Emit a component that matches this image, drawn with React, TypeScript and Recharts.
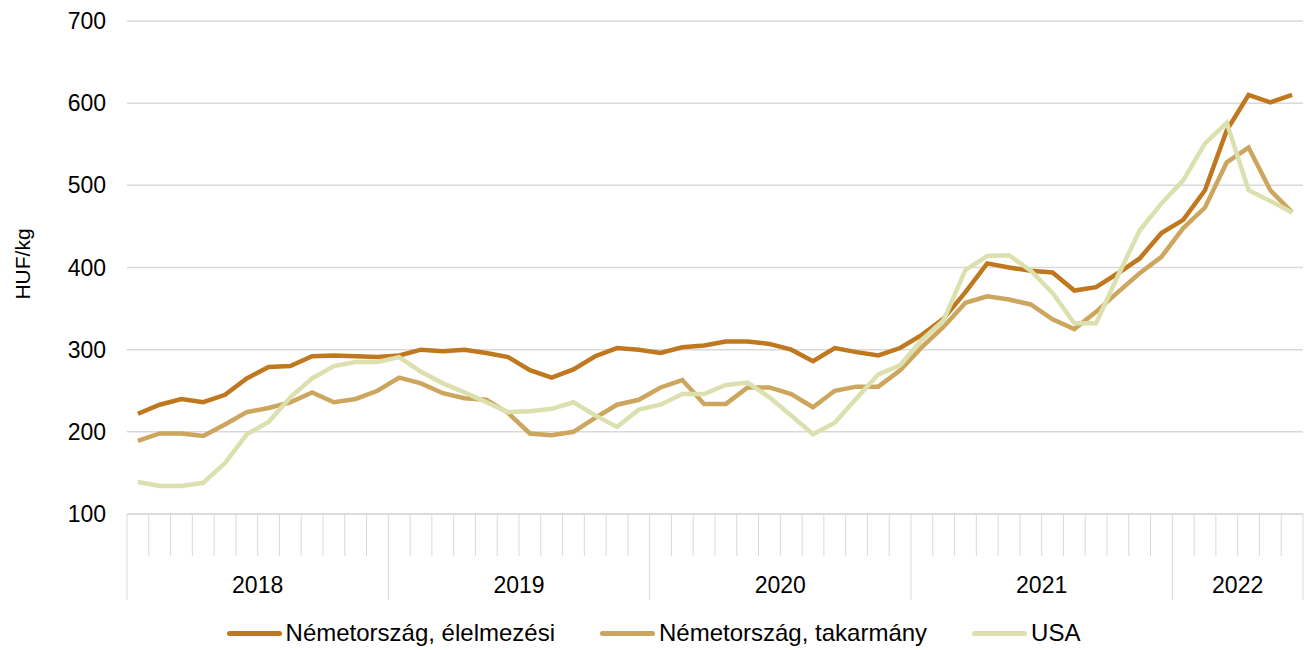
import { LineChart, Line, XAxis, YAxis, CartesianGrid } from 'recharts';

// monthly prices, Jan 2018 - Jun 2022
const years = ['2018', '2019', '2020', '2021', '2022'];
const monthsPerYear = [12, 12, 12, 12, 6];

const elelmezesi = [
  222, 233, 240, 236, 245, 265, 279, 280, 292, 293, 292, 291,
  293, 300, 298, 300, 296, 291, 275, 266, 276, 292, 302, 300,
  296, 303, 305, 310, 310, 307, 300, 286, 302, 297, 293, 302,
  318, 338, 370, 405, 400, 396, 394, 372, 376, 393, 411, 442,
  458, 494, 567, 610, 601, 610,
];
const takarmany = [
  189, 198, 198, 195, 209, 224, 229, 236, 248, 236, 240, 250,
  266, 259, 247, 241, 239, 223, 198, 196, 200, 217, 233, 239,
  254, 263, 234, 234, 254, 254, 246, 230, 250, 255, 255, 275,
  303, 328, 357, 365, 361, 355, 337, 325, 346, 370, 393, 413,
  448, 473, 528, 546, 494, 467,
];
const usa = [
  139, 134, 134, 138, 162, 197, 212, 242, 265, 280, 285, 285,
  291, 273, 259, 248, 236, 224, 225, 228, 236, 220, 206, 227,
  233, 246, 246, 257, 260, 242, 220, 197, 211, 241, 270, 281,
  312, 336, 397, 414, 415, 396, 369, 332, 332, 390, 445, 478,
  506, 551, 576, 494, 481, 467,
];
const yTicks = [100, 200, 300, 400, 500, 600, 700];

const seriesNames = ['Németország, élelmezési', 'Németország, takarmány', 'USA'];
const colors = ['#C0781F', '#CDA65E', '#DCE0AE'];

const months: string[] = [];
const yearStarts: number[] = [];
const yearMids: Record<number, string> = {};
years.forEach((yr, yi) => {
  yearStarts.push(months.length);
  yearMids[months.length + monthsPerYear[yi] / 2] = yr;
  for (let m = 1; m <= monthsPerYear[yi]; m++) months.push(`${yr}-${m}`);
});

const data = months.map((m, i) => ({
  month: m,
  elelmezesi: elelmezesi[i],
  takarmany: takarmany[i],
  usa: usa[i],
}));

const W = 1307;
const H = 650;
const Y_AXIS_W = 127;
const RIGHT = 4;
const BAND = (W - Y_AXIS_W - RIGHT) / months.length;
const FONT = '"Liberation Sans", Arial, sans-serif';
const AXIS_GRAY = '#d9d9d9';

function MonthTick(props: any) {
  const { x, y, index } = props;
  const left = x - BAND / 2;
  const long = yearStarts.includes(index);
  return (
    <g>
      <line x1={left} x2={left} y1={y} y2={y + (long ? 86 : 42)} stroke={AXIS_GRAY} strokeWidth={1} />
      {index === months.length - 1 && (
        <line x1={x + BAND / 2} x2={x + BAND / 2} y1={y} y2={y + 86} stroke={AXIS_GRAY} strokeWidth={1} />
      )}
      {yearMids[index] && (
        <text x={left} y={y + 79} textAnchor="middle" fontSize={23} fill="#000" fontFamily={FONT}>
          {yearMids[index]}
        </text>
      )}
    </g>
  );
}

export default function App() {
  return (
    <div style={{ position: 'absolute', left: 0, top: 0, width: W, height: H, background: '#fff', fontFamily: FONT }}>
      <LineChart width={W} height={H} data={data} margin={{ top: 21, right: RIGHT, bottom: 46, left: 0 }}>
        <CartesianGrid vertical={false} stroke={AXIS_GRAY} strokeWidth={1.5} />
        <XAxis
          dataKey="month"
          interval={0}
          height={90}
          tickLine={false}
          tickSize={0}
          tickMargin={0}
          axisLine={{ stroke: AXIS_GRAY, strokeWidth: 1.5 }}
          padding={{ left: BAND / 2, right: BAND / 2 }}
          tick={<MonthTick />}
        />
        <YAxis
          width={Y_AXIS_W}
          domain={[100, 700]}
          ticks={yTicks}
          interval={0}
          axisLine={false}
          tickLine={false}
          tickMargin={15}
          tick={{ fill: '#000', fontSize: 23, fontFamily: FONT }}
          label={{
            content: () => (
              <text
                x={22}
                y={264}
                transform="rotate(-90 22 264)"
                textAnchor="middle"
                dominantBaseline="central"
                fontSize={21}
                fill="#000"
                fontFamily={FONT}
              >
                HUF/kg
              </text>
            ),
          }}
        />
        <Line type="linear" dataKey="elelmezesi" name={seriesNames[0]} stroke={colors[0]} strokeWidth={4.5} dot={false} isAnimationActive={false} />
        <Line type="linear" dataKey="takarmany" name={seriesNames[1]} stroke={colors[1]} strokeWidth={4.5} dot={false} isAnimationActive={false} />
        <Line type="linear" dataKey="usa" name={seriesNames[2]} stroke={colors[2]} strokeWidth={4.5} dot={false} isAnimationActive={false} />
      </LineChart>
      <div
        style={{
          position: 'absolute',
          left: 0,
          top: 617,
          width: W,
          display: 'flex',
          justifyContent: 'center',
          gap: 45,
          fontSize: 24,
          lineHeight: '32px',
          color: '#000',
        }}
      >
        {seriesNames.map((n, i) => (
          <div key={n} style={{ display: 'flex', alignItems: 'center' }}>
            <span style={{ display: 'inline-block', width: 55, height: 5, borderRadius: 3, background: colors[i], marginRight: 4 }} />
            <span>{n}</span>
          </div>
        ))}
      </div>
    </div>
  );
}
